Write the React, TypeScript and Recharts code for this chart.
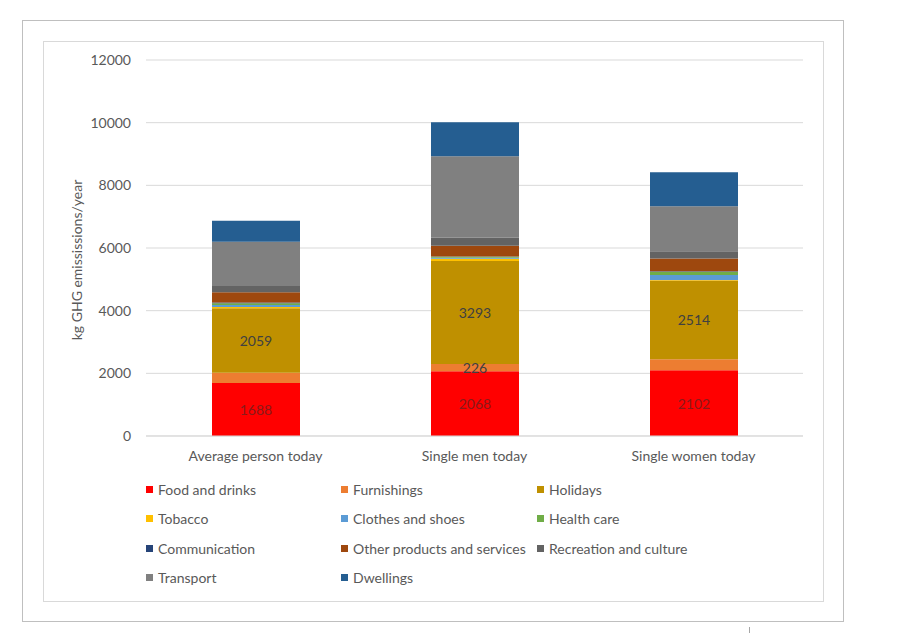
import {
    BarChart,
    Bar,
    XAxis,
    YAxis,
    CartesianGrid,
    Legend,
    LabelList,
} from "recharts";

const categories = ["Average person today", "Single men today", "Single women today"];

const foodAndDrinks = [1688, 2068, 2102];
const furnishings = [330, 226, 345];
const holidays = [2059, 3293, 2514];
const tobacco = [40, 70, 20];
const clothesAndShoes = [60, 30, 160];
const healthCare = [60, 30, 100];
const communication = [20, 15, 15];
const otherProducts = [330, 340, 405];
const recreation = [200, 255, 235];
const transport = [1410, 2605, 1436];
const dwellings = [670, 1085, 1085];

const yTicks = [0, 2000, 4000, 6000, 8000, 10000, 12000];

// which bars carry a value label, per series
const foodLabelShown = [true, true, true];
const furnishingsLabelShown = [false, true, false];
const holidaysLabelShown = [true, true, true];

const series = [
    { key: "food", name: "Food and drinks", color: "#FF0000", values: foodAndDrinks },
    { key: "furnishings", name: "Furnishings", color: "#ED7D31", values: furnishings },
    { key: "holidays", name: "Holidays", color: "#BF9000", values: holidays },
    { key: "tobacco", name: "Tobacco", color: "#FFC000", values: tobacco },
    { key: "clothes", name: "Clothes and shoes", color: "#5B9BD5", values: clothesAndShoes },
    { key: "health", name: "Health care", color: "#70AD47", values: healthCare },
    { key: "communication", name: "Communication", color: "#264478", values: communication },
    { key: "other", name: "Other products and services", color: "#9E480E", values: otherProducts },
    { key: "recreation", name: "Recreation and culture", color: "#636363", values: recreation },
    { key: "transport", name: "Transport", color: "#808080", values: transport },
    { key: "dwellings", name: "Dwellings", color: "#255E91", values: dwellings },
];

const data = categories.map((name, i) => {
    const row: Record<string, string | number> = { name };
    series.forEach((s) => {
        row[s.key] = s.values[i];
    });
    return row;
});

const textColor = "#595959";

const centerLabel = (shown: boolean[], color: string) => (props: any) => {
    const vb = props.viewBox && props.viewBox.width !== undefined ? props.viewBox : props;
    if (!shown[props.index]) return null;
    const x = Number(vb.x) + Number(vb.width) / 2;
    const y = Number(vb.y) + Number(vb.height) / 2;
    return (
        <text
            x={x}
            y={y}
            fill={color}
            fontSize={14}
            textAnchor="middle"
            dominantBaseline="central"
        >
            {props.value}
        </text>
    );
};

const yAxisLabel = (props: any) => {
    const vb = props.viewBox;
    const x = vb.x + 16;
    const y = vb.y + vb.height / 2 + 12;
    return (
        <text
            x={x}
            y={y}
            transform={`rotate(-90, ${x}, ${y})`}
            textAnchor="middle"
            dominantBaseline="central"
            fill={textColor}
            fontSize={14}
        >
            kg GHG emississions/year
        </text>
    );
};

const renderLegend = (props: any) => {
    const payload = props.payload || [];
    return (
        <div
            style={{
                display: "grid",
                gridTemplateColumns: "195px 196px 200px",
                gridAutoRows: "29.3px",
                alignItems: "center",
                fontSize: 14,
                color: textColor,
            }}
        >
            {series.map((s) => {
                const entry = payload.find((p: any) => p.value === s.name);
                const color = entry ? entry.color : s.color;
                return (
                    <div key={s.key} style={{ display: "flex", alignItems: "center", whiteSpace: "nowrap" }}>
                        <span
                            style={{
                                display: "inline-block",
                                width: 7,
                                height: 7,
                                background: color,
                                marginRight: 5,
                            }}
                        />
                        <span>{s.name}</span>
                    </div>
                );
            })}
        </div>
    );
};

export default function App() {
    return (
        <div
            style={{
                position: "absolute",
                left: 0,
                top: 0,
                width: 898,
                height: 633,
                background: "#fff",
                fontFamily: "Lato, 'Liberation Sans', sans-serif",
            }}
        >
            <div
                style={{
                    position: "absolute",
                    left: 22,
                    top: 20,
                    width: 820,
                    height: 600,
                    border: "1px solid #BFBFBF",
                }}
            />
            <div
                style={{
                    position: "absolute",
                    left: 43,
                    top: 41,
                    width: 779,
                    height: 559,
                    border: "1px solid #D9D9D9",
                }}
            />
            <div
                style={{
                    position: "absolute",
                    left: 749,
                    top: 627,
                    width: 1,
                    height: 6,
                    background: "#A6A6A6",
                }}
            />
            <div style={{ position: "absolute", left: 0, top: 0 }}>
                <BarChart
                    width={898}
                    height={633}
                    data={data}
                    margin={{ top: 60, right: 95, bottom: 167, left: 60 }}
                >
                    <CartesianGrid vertical={false} stroke="#D9D9D9" />
                    <XAxis
                        dataKey="name"
                        axisLine={{ stroke: "#D9D9D9" }}
                        tickLine={false}
                        tickMargin={9}
                        tick={{ fill: textColor, fontSize: 14 }}
                    />
                    <YAxis
                        width={86}
                        domain={[0, 12000]}
                        ticks={yTicks}
                        axisLine={false}
                        tickLine={false}
                        tickMargin={9}
                        tick={{ fill: textColor, fontSize: 14 }}
                        label={yAxisLabel}
                    />
                    <Legend
                        layout="horizontal"
                        verticalAlign="middle"
                        align="center"
                        wrapperStyle={{ top: 475, left: 146, width: 700 }}
                        content={renderLegend}
                    />
                    {series.map((s) => (
                        <Bar
                            key={s.key}
                            dataKey={s.key}
                            name={s.name}
                            stackId="a"
                            fill={s.color}
                            barSize={88}
                            isAnimationActive={false}
                        >
                            {s.key === "food" && (
                                <LabelList dataKey="food" content={centerLabel(foodLabelShown, "#8A1A1A")} />
                            )}
                            {s.key === "furnishings" && (
                                <LabelList
                                    dataKey="furnishings"
                                    content={centerLabel(furnishingsLabelShown, "#404040")}
                                />
                            )}
                            {s.key === "holidays" && (
                                <LabelList dataKey="holidays" content={centerLabel(holidaysLabelShown, "#404040")} />
                            )}
                        </Bar>
                    ))}
                </BarChart>
            </div>
        </div>
    );
}
